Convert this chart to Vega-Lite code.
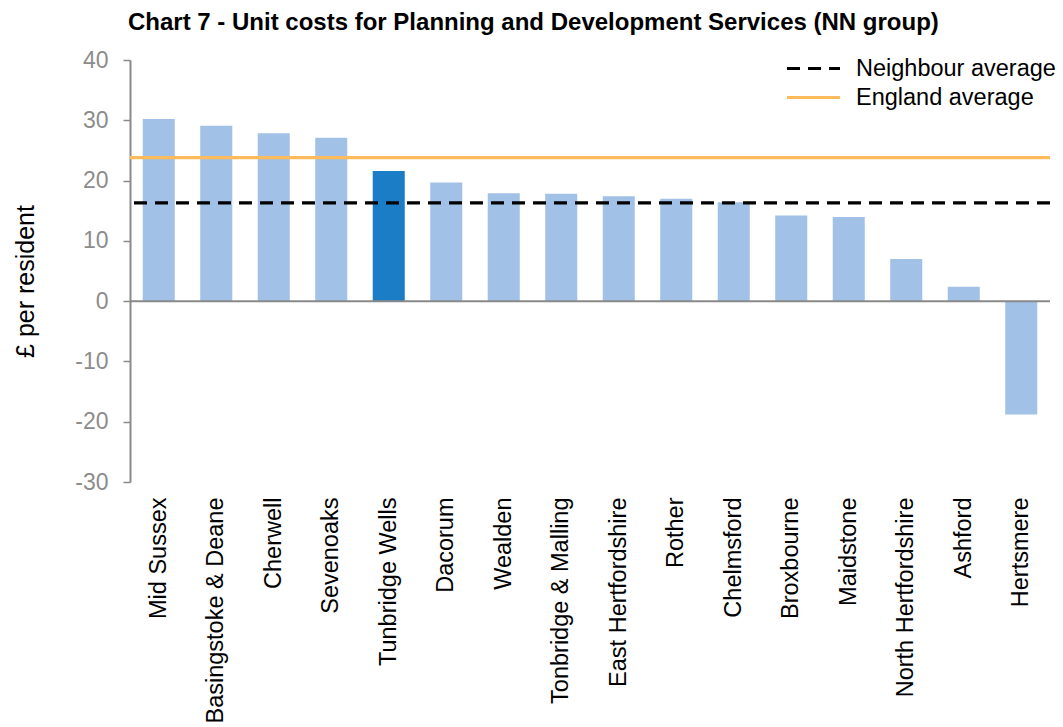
{
  "$schema": "https://vega.github.io/schema/vega-lite/v6.json",
  "width": 920,
  "height": 422,
  "autosize": "none",
  "padding": {"left": 130, "top": 60, "right": 13, "bottom": 245},
  "background": "white",
  "config": {
    "view": {"stroke": null},
    "font": "Liberation Sans"
  },
  "title": {
    "text": "Chart 7 - Unit costs for Planning and Development Services (NN group)",
    "anchor": "start",
    "frame": "group",
    "font": "Liberation Sans",
    "fontSize": 24,
    "fontWeight": "bold",
    "color": "#000000",
    "dx": -2,
    "offset": 14
  },
  "datasets": {
    "costs": [
      {"name": "Mid Sussex", "value": 30.2},
      {"name": "Basingstoke & Deane", "value": 29.1},
      {"name": "Cherwell", "value": 27.85},
      {"name": "Sevenoaks", "value": 27.1},
      {"name": "Tunbridge Wells", "value": 21.6},
      {"name": "Dacorum", "value": 19.7},
      {"name": "Wealden", "value": 17.9},
      {"name": "Tonbridge & Malling", "value": 17.8},
      {"name": "East Hertfordshire", "value": 17.4},
      {"name": "Rother", "value": 17.0},
      {"name": "Chelmsford", "value": 16.4},
      {"name": "Broxbourne", "value": 14.2},
      {"name": "Maidstone", "value": 13.95},
      {"name": "North Hertfordshire", "value": 7.0},
      {"name": "Ashford", "value": 2.4},
      {"name": "Hertsmere", "value": -18.8}
    ],
    "averages": [
      {"series": "Neighbour average", "value": 16.3},
      {"series": "England average", "value": 23.8}
    ]
  },
  "layer": [
    {
      "data": {"name": "costs"},
      "mark": {"type": "bar"},
      "encoding": {
        "x": {
          "field": "name",
          "type": "nominal",
          "sort": null,
          "scale": {"paddingInner": 0.443, "paddingOuter": 0.2215},
          "axis": {
            "title": null,
            "domain": false,
            "ticks": false,
            "labelAngle": -90,
            "labelAlign": "right",
            "labelBaseline": "middle",
            "labelPadding": 15,
            "labelFont": "Liberation Sans",
            "labelFontSize": 23.5,
            "labelColor": "#000000",
            "labelLimit": 400
          }
        },
        "y": {
          "field": "value",
          "type": "quantitative",
          "scale": {"domain": [-30, 40], "nice": false, "zero": false},
          "axis": {
            "title": "£ per resident",
            "titleFont": "Liberation Sans",
            "titleFontSize": 25,
            "titleFontWeight": "normal",
            "titleColor": "#000000",
            "titleAngle": -90,
            "titleX": -97,
            "titleY": 221,
            "titleAlign": "center",
            "titleBaseline": "alphabetic",
            "values": [-30, -20, -10, 0, 10, 20, 30, 40],
            "labelExpr": "toString(datum.value)",
            "grid": false,
            "domainColor": "#898989",
            "domainWidth": 2,
            "tickColor": "#898989",
            "tickWidth": 1.5,
            "tickSize": 7,
            "labelPadding": 15,
            "labelFont": "Liberation Sans",
            "labelFontSize": 23,
            "labelColor": "#8C8C8C"
          }
        },
        "color": {
          "condition": {"test": "datum.name === 'Tunbridge Wells'", "value": "#1B7DC6"},
          "value": "#A1C1E6"
        }
      }
    },
    {
      "data": {"values": [{"zero": 0}]},
      "mark": {"type": "rule", "color": "#898989", "strokeWidth": 2},
      "encoding": {
        "y": {"field": "zero", "type": "quantitative"}
      }
    },
    {
      "data": {"name": "averages"},
      "mark": {"type": "rule", "strokeWidth": 3.2},
      "encoding": {
        "y": {"field": "value", "type": "quantitative"},
        "color": {
          "field": "series",
          "type": "nominal",
          "scale": {
            "domain": ["Neighbour average", "England average"],
            "range": ["#000000", "#FDBB5B"]
          },
          "legend": {
            "title": null,
            "orient": "none",
            "legendX": 655,
            "legendY": -6,
            "padding": 0,
            "symbolType": "stroke",
            "symbolSize": 2809,
            "symbolStrokeWidth": 3.2,
            "clipHeight": 29,
            "labelFont": "Liberation Sans",
            "labelFontSize": 23.5,
            "labelColor": "#000000",
            "labelOffset": 14,
            "rowPadding": 0,
            "labelLimit": 400
          }
        },
        "strokeDash": {
          "field": "series",
          "type": "nominal",
          "scale": {
            "domain": ["Neighbour average", "England average"],
            "range": [[13, 8], [1, 0]]
          },
          "legend": {
            "title": null,
            "orient": "none",
            "legendX": 655,
            "legendY": -6,
            "padding": 0,
            "symbolType": "stroke",
            "symbolSize": 2809,
            "symbolStrokeWidth": 3.2,
            "clipHeight": 29,
            "labelFont": "Liberation Sans",
            "labelFontSize": 23.5,
            "labelColor": "#000000",
            "labelOffset": 14,
            "rowPadding": 0,
            "labelLimit": 400
          }
        }
      }
    }
  ]
}
